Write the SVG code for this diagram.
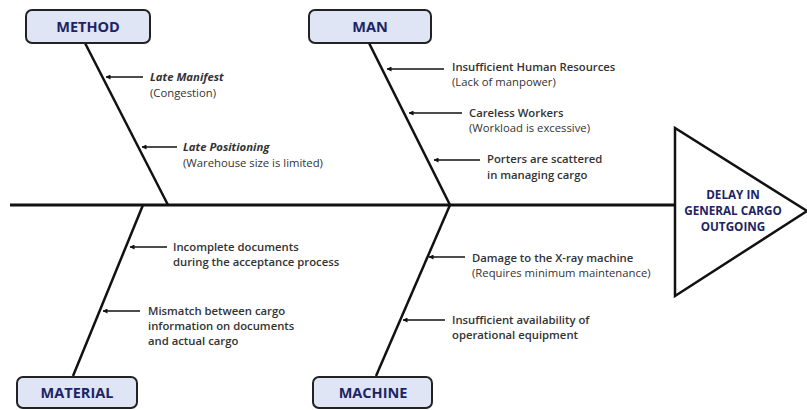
<svg xmlns="http://www.w3.org/2000/svg" width="807" height="410" viewBox="0 0 807 410">
<defs>
<marker id="ah" viewBox="0 0 10 10" refX="9" refY="5" markerWidth="5" markerHeight="5" orient="auto-start-reverse" markerUnits="userSpaceOnUse">
<path d="M0,0 L10,5 L0,10 z" fill="#111"/>
</marker>
<style>
.box{fill:#dfe5f4;stroke:#222;stroke-width:2}
.lbl{font-family:"Open Sans","Liberation Sans",sans-serif;font-weight:700;font-size:14.5px;fill:#1c2466;text-anchor:middle}
.eff{font-family:"Open Sans","Liberation Sans",sans-serif;font-weight:700;font-size:11.7px;fill:#1c2466;text-anchor:middle}
.bone{stroke:#111;stroke-width:2.5;fill:none}
.spine{stroke:#111;stroke-width:3;fill:none}
.rib{stroke:#111;stroke-width:1.5;fill:none}
.t{font-family:"Open Sans","Liberation Sans",sans-serif;font-size:11.3px;fill:#333;font-weight:600}
.ti{font-style:italic;font-weight:700}
.tr{font-weight:400}
</style>
</defs>
<rect width="807" height="410" fill="#fff"/>
<g id="connectors">
<line class="spine" x1="10" y1="205" x2="675" y2="205"/>
<line class="bone" x1="85" y1="43" x2="168" y2="205"/>
<line class="bone" x1="369" y1="43" x2="450" y2="205"/>
<line class="bone" x1="143" y1="205" x2="73" y2="376"/>
<line class="bone" x1="450" y1="205" x2="376" y2="376"/>
<line class="rib" x1="143" y1="77" x2="106" y2="77" marker-end="url(#ah)"/>
<line class="rib" x1="177" y1="147" x2="142" y2="147" marker-end="url(#ah)"/>
<line class="rib" x1="444" y1="69" x2="387" y2="69" marker-end="url(#ah)"/>
<line class="rib" x1="462" y1="113" x2="409" y2="113" marker-end="url(#ah)"/>
<line class="rib" x1="480" y1="160" x2="434" y2="160" marker-end="url(#ah)"/>
<line class="rib" x1="167" y1="247" x2="130" y2="247" marker-end="url(#ah)"/>
<line class="rib" x1="140" y1="311" x2="103" y2="311" marker-end="url(#ah)"/>
<line class="rib" x1="465" y1="257" x2="429" y2="257" marker-end="url(#ah)"/>
<line class="rib" x1="445" y1="320" x2="403" y2="320" marker-end="url(#ah)"/>
</g>
<g id="method">
<rect class="box" x="26" y="10" width="124" height="33" rx="6"/>
<text class="lbl" x="88" y="32">METHOD</text>
</g>
<g id="man">
<rect class="box" x="309" y="10" width="122" height="33" rx="6"/>
<text class="lbl" x="370" y="32">MAN</text>
</g>
<g id="material">
<rect class="box" x="17" y="377" width="120" height="31" rx="6"/>
<text class="lbl" x="77" y="398">MATERIAL</text>
</g>
<g id="machine">
<rect class="box" x="313" y="377" width="119" height="31" rx="6"/>
<text class="lbl" x="373" y="398">MACHINE</text>
</g>
<g id="effect">
<polygon points="675,128 675,296 807,211" fill="#fff" stroke="#111" stroke-width="2.5"/>
<text class="eff" x="733" y="199">DELAY IN</text>
<text class="eff" x="733" y="215">GENERAL CARGO</text>
<text class="eff" x="733" y="231">OUTGOING</text>
</g>
<g id="cause-late-manifest">
<text class="t ti" x="150" y="81">Late Manifest</text>
<text class="t tr" x="150" y="97">(Congestion)</text>
</g>
<g id="cause-late-positioning">
<text class="t ti" x="183" y="151">Late Positioning</text>
<text class="t tr" x="183" y="167">(Warehouse size is limited)</text>
</g>
<g id="cause-human-resources">
<text class="t" x="452" y="71">Insufficient Human Resources</text>
<text class="t tr" x="452" y="86">(Lack of manpower)</text>
</g>
<g id="cause-careless">
<text class="t" x="469" y="117">Careless Workers</text>
<text class="t tr" x="469" y="132">(Workload is excessive)</text>
</g>
<g id="cause-porters">
<text class="t" x="487" y="163">Porters are scattered</text>
<text class="t" x="487" y="179">in managing cargo</text>
</g>
<g id="cause-incomplete-docs">
<text class="t" x="173" y="251">Incomplete documents</text>
<text class="t" x="173" y="266">during the acceptance process</text>
</g>
<g id="cause-mismatch">
<text class="t" x="148" y="315">Mismatch between cargo</text>
<text class="t" x="148" y="330">information on documents</text>
<text class="t" x="148" y="345">and actual cargo</text>
</g>
<g id="cause-xray">
<text class="t" x="472" y="262">Damage to the X-ray machine</text>
<text class="t tr" x="472" y="277">(Requires minimum maintenance)</text>
</g>
<g id="cause-equipment">
<text class="t" x="452" y="324">Insufficient availability of</text>
<text class="t" x="452" y="339">operational equipment</text>
</g>
</svg>
